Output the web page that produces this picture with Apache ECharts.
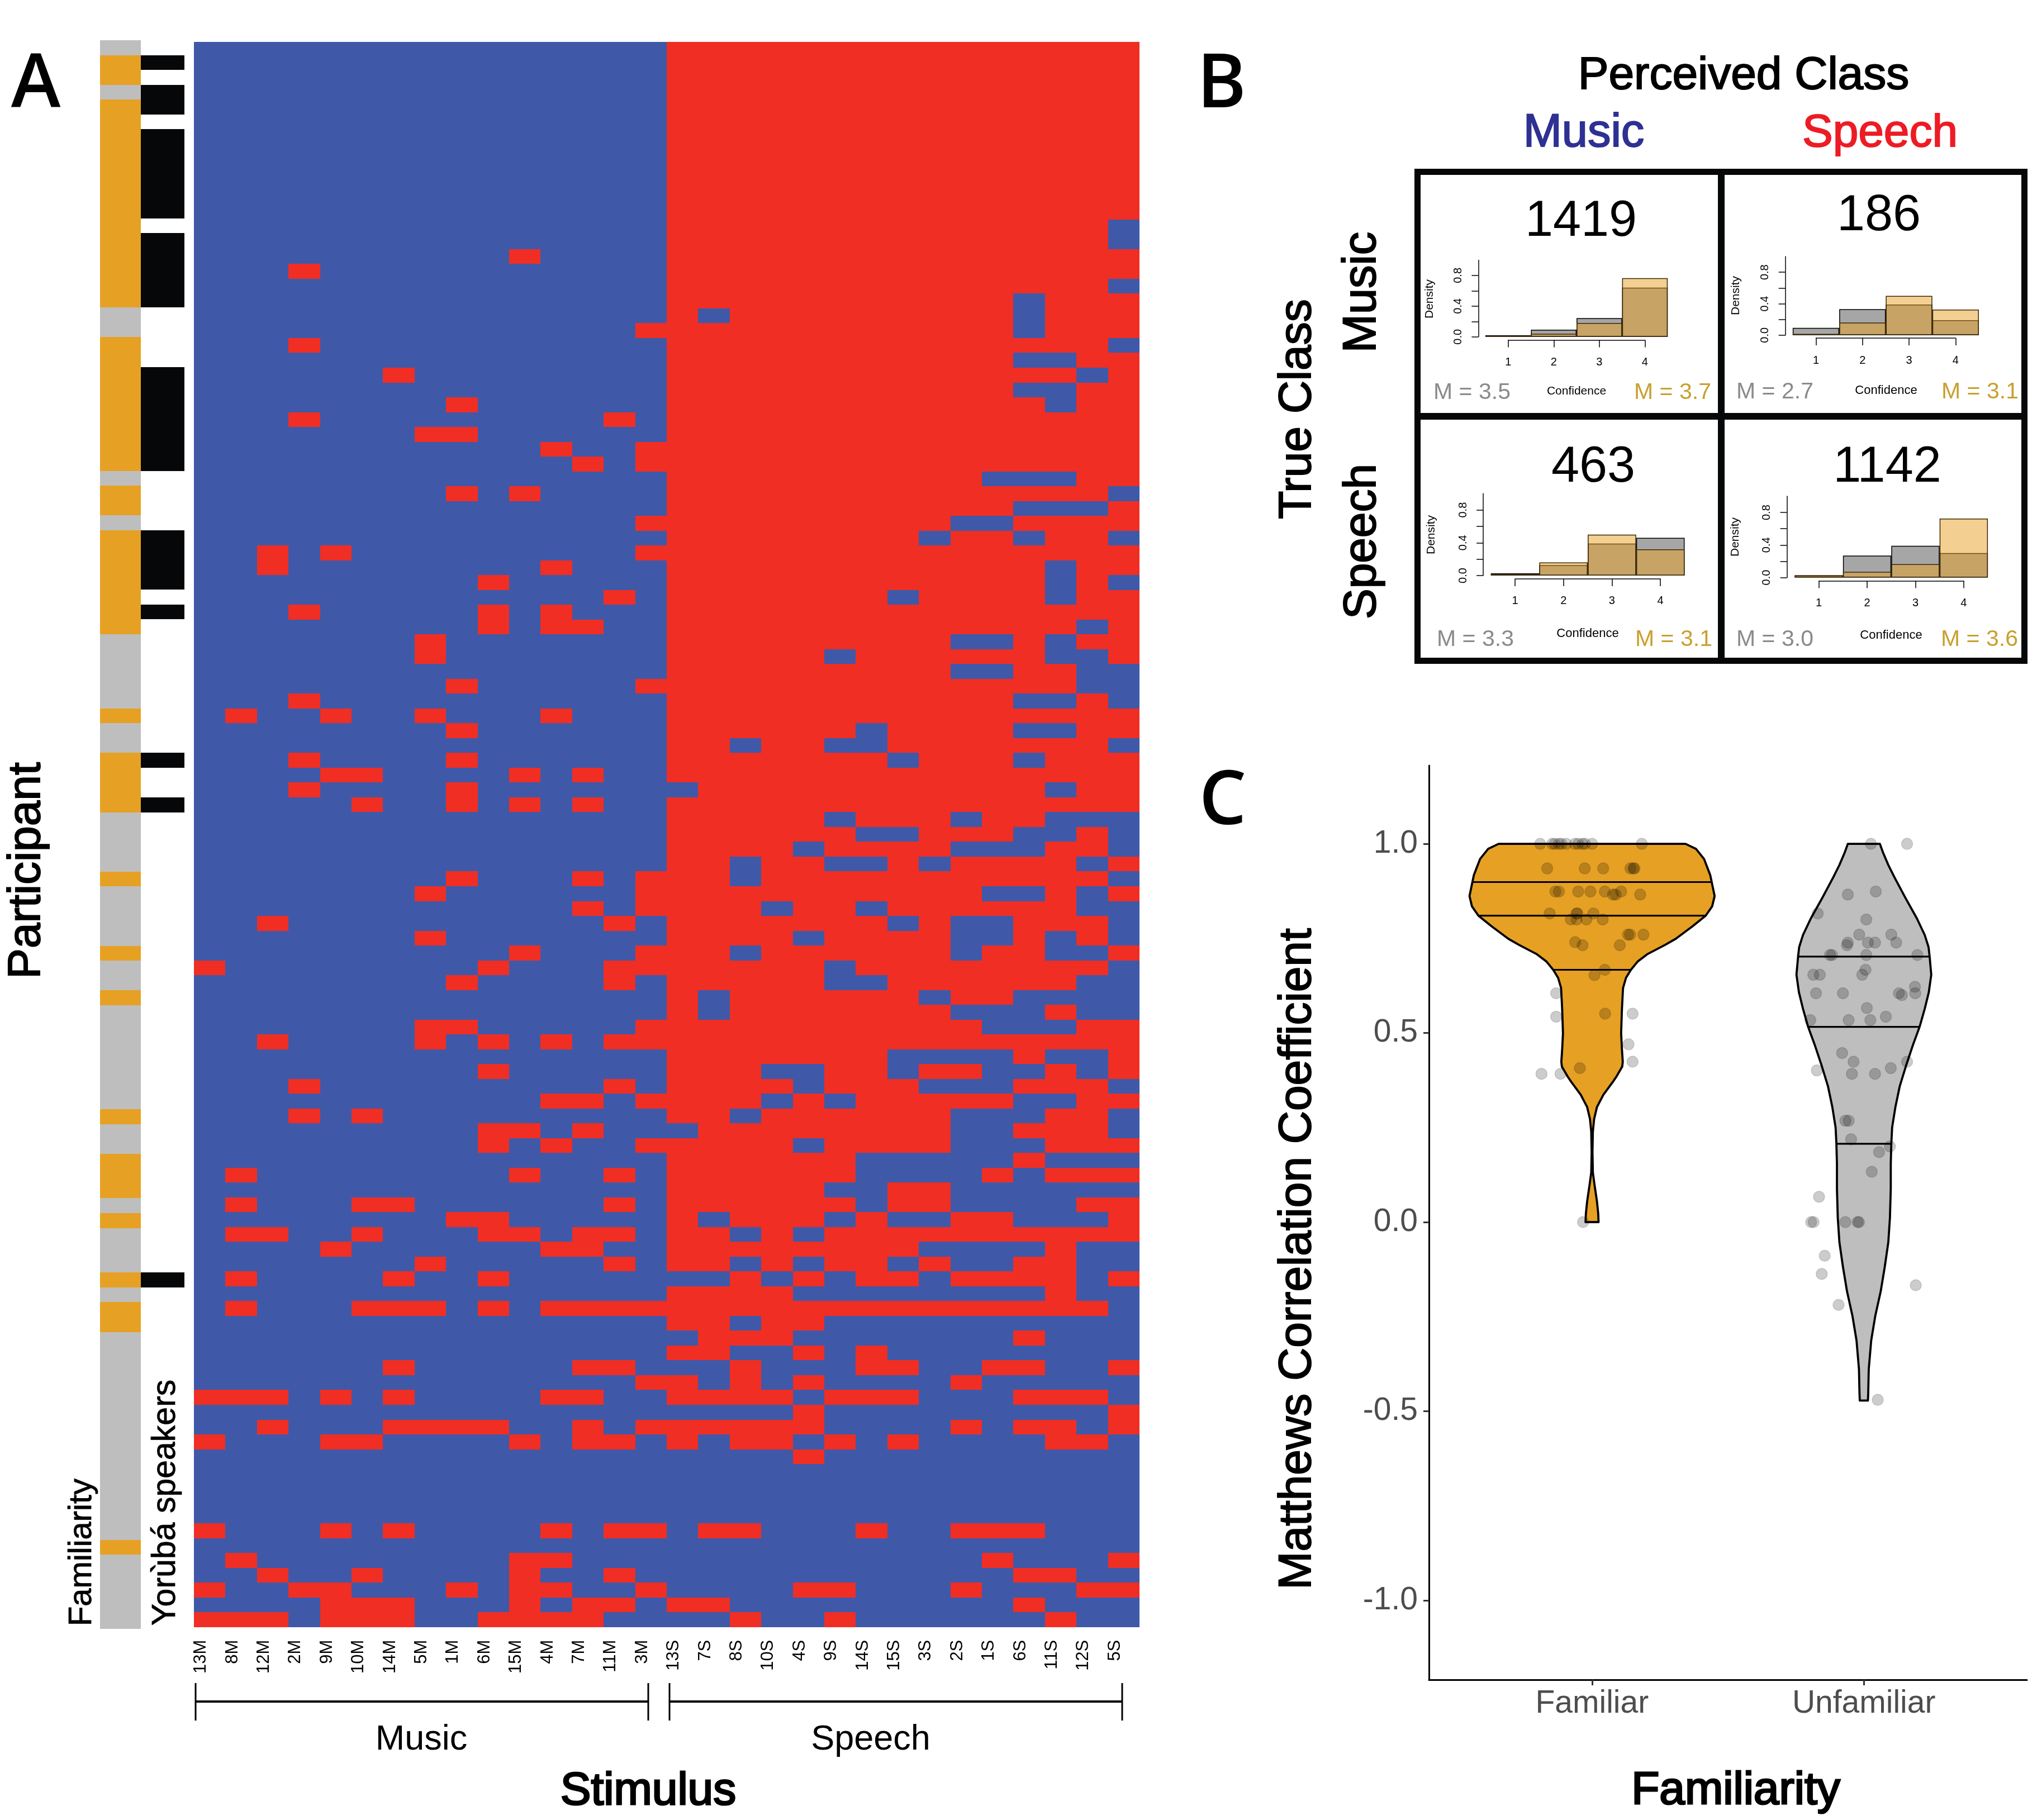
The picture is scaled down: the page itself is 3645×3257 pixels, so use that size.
<!DOCTYPE html>
<html>
<head>
<meta charset="utf-8">
<style>html,body{margin:0;padding:0;background:#fff}#c{width:3645px;height:3257px}</style>
<script src="https://cdn.jsdelivr.net/npm/echarts@6/dist/echarts.min.js"></script>
</head>
<body>
<div id="c"></div>
<script>
const stimuli = ['13M','8M','12M','2M','9M','10M','14M','5M','1M','6M','15M','4M','7M','11M','3M','13S','7S','8S','10S','4S','9S','14S','15S','3S','2S','1S','6S','11S','12S','5S'];
const musicCount = 15;
const participantCount = 107;
// columns where the perceived class differs from the true class, one list per participant
const flips = [
[],[],[],[],[],[],[],[],[],[],[],[],
[29],[29],[10],[3],[29],[26],[16,26],[14,26],[3,29],[26,27],[6,28],[26,27],[8,27],[3,13],[7,8],[11,14],[12,14],
[25,26,27],[8,10,29],[26,27,28],[14,24,25],[23,26,29],[2,4,14],[2,11,27],[9,27,29],[13,22,27],[3,9,11],[9,11,12,28],
[7,24,25,27],[7,20,27,28],[24,25,28,29],[8,14,28,29],[3,26,27,29],[1,4,7,11],[8,21,26,27],[17,20,21,29],[3,8,22,26],
[4,5,10,12],[3,8,15,27],[5,8,10,12],[20,24,27,28,29],[21,22,26,27,29],[19,24,25,26,29],[17,20,21,23,28],[8,12,14,17,29],
[7,14,25,26,28],[12,14,18,21,28,29],[2,13,22,24,25,29],[7,19,24,25,27,29],[10,14,17,24,27,28],[0,9,13,14,20,29],
[8,13,20,21,28,29],[16,23,26,27,28,29],[16,24,25,26,28,29],[7,8,14,25,26,27],[2,7,9,11,13,14],[22,23,24,25,27,28],
[9,18,19,22,25,26,28],[3,13,19,23,24,25,29],[11,12,14,18,20,26,27],[3,5,17,24,25,26,29],[9,10,12,15,24,25,29],
[9,11,14,19,24,25,26],[21,22,23,24,25,27,28,29],[1,10,13,21,22,23,24,26],[20,21,24,25,26,27,28,29],
[1,5,6,13,21,24,25,26,27],[8,9,16,20,22,23,26,27,28],[1,2,5,9,10,12,13,17,19],[4,11,12,23,24,25,26,28,29],
[7,13,17,19,22,24,25,28,29],[1,6,9,15,16,18,20,23,28],[19,20,21,22,23,24,25,26,28,29],[1,5,6,7,9,11,12,13,14,29],
[17,20,21,22,23,24,25,26,27,28,29],[15,19,20,21,22,23,24,25,27,28,29],[17,18,20,22,23,24,25,26,27,28,29],
[6,12,13,15,16,18,19,20,23,24,27,28],[14,16,18,20,21,22,23,25,26,27,28,29],[0,1,2,4,6,11,12,19,23,24,25,29],
[15,16,17,18,20,21,22,23,24,25,26,27,28],[2,6,7,8,9,12,14,20,21,22,23,25,28],[0,4,5,10,12,13,16,19,21,23,24,25,26,29],
[15,16,17,18,20,21,22,23,24,25,26,27,28,29],
[15,16,17,18,19,20,21,22,23,24,25,26,27,28,29],[15,16,17,18,19,20,21,22,23,24,25,26,27,28,29],
[15,16,17,18,19,20,21,22,23,24,25,26,27,28,29],[15,16,17,18,19,20,21,22,23,24,25,26,27,28,29],
[0,4,6,11,13,14,15,18,19,20,22,23,27,28,29],
[15,16,17,18,19,20,21,22,23,24,25,26,27,28,29],
[1,10,11,15,16,17,18,19,20,21,22,23,24,26,27,28],
[2,5,10,13,15,16,17,18,19,20,21,22,23,24,25,28,29],
[0,3,4,8,10,11,14,15,16,17,18,21,22,23,25,26,27],
[4,5,6,10,12,13,17,18,19,20,21,22,23,24,25,27,28,29],
[0,1,2,4,5,6,9,10,11,12,15,16,18,19,21,22,23,24,25,26,28,29]
];
const familiarRows = [1,2,4,5,6,7,8,9,10,11,12,13,14,15,16,17,20,21,22,23,24,25,26,27,28,30,31,33,34,35,36,37,38,39,45,48,49,50,51,56,61,64,72,75,76,77,79,83,85,86,101];
const yorubaRows = [1,3,4,6,7,8,9,10,11,13,14,15,16,17,22,23,24,25,26,27,28,33,34,35,36,38,48,51,83];

const confidence = [1,2,3,4];
const histMMgray = [0.02,0.094,0.245,0.64];
const histMMgold = [0.015,0.04,0.18,0.765];
const histMSgray = [0.092,0.33,0.39,0.19];
const histMSgold = [0.017,0.16,0.50,0.325];
const histSMgray = [0.028,0.128,0.39,0.46];
const histSMgold = [0.02,0.16,0.50,0.32];
const histSSgray = [0.024,0.27,0.39,0.30];
const histSSgold = [0.03,0.07,0.165,0.725];

const famViolinY = [1,0.987,0.96,0.917,0.862,0.835,0.81,0.781,0.749,0.733,0.709,0.689,0.667,0.646,0.619,0.564,0.499,0.456,0.424,0.411,0.385,0.369,0.337,0.304,0.272,0.239,0.185,0.131,0.099,0.055,0.023,0];
const famViolinHalf = [0.344,0.382,0.412,0.435,0.451,0.442,0.418,0.368,0.308,0.269,0.205,0.168,0.143,0.125,0.114,0.11,0.107,0.11,0.113,0.111,0.09,0.075,0.042,0.018,0.0075,0.003,0.0015,0.003,0.009,0.018,0.0226,0.024];
const famQuantiles = [0.899,0.81,0.667];
const unfViolinY = [1,0.976,0.944,0.911,0.857,0.803,0.759,0.727,0.702,0.654,0.608,0.564,0.516,0.467,0.413,0.359,0.304,0.25,0.207,0.153,0.088,0.012,-0.053,-0.118,-0.183,-0.248,-0.313,-0.389,-0.454,-0.472];
const unfViolinHalf = [0.059,0.071,0.09,0.113,0.153,0.195,0.224,0.238,0.242,0.248,0.239,0.224,0.205,0.18,0.155,0.132,0.116,0.104,0.101,0.099,0.099,0.096,0.09,0.077,0.062,0.042,0.027,0.018,0.016,0.015];
const unfQuantiles = [0.702,0.516,0.207];

const famDotsX = [0.809,0.853,0.863,0.878,0.887,0.905,0.937,0.949,0.965,0.974,1.0,1.183, 0.835,0.973,1.041,1.141,1.152,1.156, 0.865,0.878,0.949,0.994,1.047,1.107, 1.077,1.087,1.177, 0.844,0.943,0.946,1.005, 0.922,0.943,0.979,1.039, 1.132,1.14,1.189, 0.938, 0.965,1.102, 1.047, 1.009, 0.868, 1.048,1.149, 0.868, 1.134, 1.149, 0.955, 0.814,0.884, 0.967];
const famDotsY = [1,1,1,1,1,1,1,1,1,1,1,1, 0.935,0.935,0.935,0.935,0.935,0.935, 0.874,0.874,0.874,0.874,0.874,0.874, 0.866,0.866,0.866, 0.816,0.816,0.816,0.816, 0.8,0.8,0.8,0.8, 0.76,0.76,0.76, 0.74, 0.732,0.732, 0.667, 0.653, 0.605, 0.551,0.551, 0.543, 0.47, 0.424, 0.407, 0.392,0.392, 0];
const unfDotsX = [2.026,2.159, 2.044, 1.941, 1.83, 2.009, 1.983,2.101, 2.015,2.041,2.119,1.941, 1.938, 1.875,1.883,2.009,2.197, 2.006, 1.814,1.838,1.994, 2.188, 1.824,1.923,2.129,2.189, 2.14, 2.011, 2.081, 1.803,1.944,2.024, 1.92, 1.962,2.159, 2.099, 1.827, 1.956,2.041, 1.932,1.944, 1.953, 2.096, 2.056, 2.029, 1.835, 1.806,1.815,1.932,1.977,1.982, 1.856, 1.845, 2.191, 1.907, 2.051];
const unfDotsY = [1,1, 0.874, 0.866, 0.816, 0.8, 0.76,0.76, 0.739,0.739,0.739,0.739, 0.732, 0.706,0.706,0.706,0.706, 0.667, 0.654,0.654,0.654, 0.622, 0.605,0.605,0.605,0.605, 0.6, 0.566, 0.543, 0.534,0.534,0.534, 0.447, 0.424,0.424, 0.407, 0.401, 0.392,0.392, 0.268,0.268, 0.219, 0.2, 0.185, 0.133, 0.067, 0,0,0,0,0, -0.089, -0.137, -0.167, -0.219, -0.47];
const violinCategories = ['Familiar','Unfamiliar'];
const violinTicks = [-1,-0.5,0,0.5,1];

const SANS = '"Liberation Sans", Arial, sans-serif';
const BLUE = '#3F59A8', RED = '#F02E24', GOLD = '#E6A023', GREY = '#BEBEBE', INK = '#050708';

const rows = Array.from({length: participantCount}, (_, i) => String(i + 1));
const heatData = [];
flips.forEach((f, r) => {
  stimuli.forEach((s, c) => {
    const base = c < musicCount ? 0 : 1;
    heatData.push([c, r, f.includes(c) ? 1 - base : base]);
  });
});
const famData = rows.map((_, r) => [0, r, familiarRows.includes(r) ? 1 : 0]);
const yorData = yorubaRows.map(r => [0, r, 1]);

// pixel-snapped cells so neighbouring cells of one colour leave no seam
function cellSeries(axisIndex, data, palette) {
  return {
    type: 'custom', xAxisIndex: axisIndex, yAxisIndex: axisIndex, data, encode: {x: 0, y: 1}, clip: false,
    renderItem: (params, api) => {
      const p = api.coord([api.value(0), api.value(1)]);
      const s = api.size([1, 1]);
      const x0 = Math.round(p[0] - s[0] / 2), x1 = Math.round(p[0] + s[0] / 2);
      const y0 = Math.round(p[1] - s[1] / 2), y1 = Math.round(p[1] + s[1] / 2);
      return {type: 'rect', shape: {x: x0, y: y0, width: x1 - x0, height: y1 - y0}, style: {fill: palette[api.value(2)]}};
    }
  };
}

const grids = [
  {left: 347, top: 74.7, width: 1692, height: 2837},
  {left: 179, top: 72, width: 73, height: 2843},
  {left: 252, top: 72, width: 78, height: 2843},
  {left: 2698.7, top: 465.4, width: 244.7, height: 137.4},
  {left: 3249.5, top: 459, width: 249.8, height: 140.8},
  {left: 2711.1, top: 883.3, width: 260, height: 146.7},
  {left: 3254.6, top: 888, width: 259.3, height: 145.5},
  {left: 2557, top: 1370, width: 1070, height: 1636}
];
const xAxes = [
  {gridIndex: 0, type: 'category', data: stimuli, axisLine: {show: false}, axisTick: {show: false},
   axisLabel: {rotate: 90, interval: 0, margin: 23, fontFamily: SANS, fontSize: 31, color: '#000', verticalAlign: 'bottom', align: 'right'}},
  {gridIndex: 1, type: 'category', data: ['Familiarity'], show: false},
  {gridIndex: 2, type: 'category', data: ['Yoruba'], show: false}
];
const yAxes = [
  {gridIndex: 0, type: 'category', data: rows, inverse: true, show: false},
  {gridIndex: 1, type: 'category', data: rows, inverse: true, show: false},
  {gridIndex: 2, type: 'category', data: rows, inverse: true, show: false}
];
const histOffsets = [[5.8, 53.3],[5.2, 54.8],[5.9, 57],[5.9, 57]];
const histBarW = [81.6, 83.3, 86.7, 86.4];
const hists = [[histMMgray,histMMgold],[histMSgray,histMSgold],[histSMgray,histSMgold],[histSSgray,histSSgold]];
const series = [
  cellSeries(0, heatData, [BLUE, RED]),
  cellSeries(1, famData, [GREY, GOLD]),
  cellSeries(2, yorData, [INK, INK])
];
hists.forEach((h, i) => {
  const g = 3 + i;
  xAxes.push({gridIndex: g, type: 'value', min: 1, max: 4, interval: 1, offset: histOffsets[i][0], position: 'bottom',
    splitLine: {show: false}, axisLine: {show: true, onZero: false, lineStyle: {color: '#000', width: 1.5}},
    axisTick: {show: true, length: 13, lineStyle: {color: '#000', width: 1.5}},
    axisLabel: {margin: 30, fontFamily: SANS, fontSize: 20, color: '#000'}});
  yAxes.push({gridIndex: g, type: 'value', min: 0, max: 1, interval: 0.2, offset: histOffsets[i][1], position: 'left',
    splitLine: {show: false}, axisLine: {show: true, lineStyle: {color: '#000', width: 1.5}},
    axisTick: {show: true, length: 12, lineStyle: {color: '#000', width: 1.5}},
    axisLabel: {rotate: 90, margin: 26, fontFamily: SANS, fontSize: 20, color: '#000', showMinLabel: true, showMaxLabel: false,
      formatter: v => (Math.abs(v * 5 % 2) < 1e-6 ? v.toFixed(1) : '')}});
  series.push({type: 'bar', xAxisIndex: g, yAxisIndex: g, clip: false, barWidth: histBarW[i], barGap: '-100%',
    itemStyle: {color: 'rgba(128,128,128,0.7)', borderColor: '#000', borderWidth: 1.5},
    data: confidence.map((c, k) => [c, h[0][k]])});
  series.push({type: 'bar', xAxisIndex: g, yAxisIndex: g, clip: false, barWidth: histBarW[i], barGap: '-100%',
    itemStyle: {color: 'rgba(232,160,35,0.5)', borderColor: '#3a2a08', borderWidth: 1.5},
    data: confidence.map((c, k) => [c, h[1][k]])});
});
xAxes.push({gridIndex: 7, type: 'value', min: 0.4, max: 2.6, splitLine: {show: false},
  axisLine: {show: true, onZero: false, lineStyle: {color: '#000', width: 3}},
  axisTick: {show: true, customValues: [1, 2], length: 10, lineStyle: {color: '#333', width: 3}},
  axisLabel: {customValues: [1, 2], margin: 15, fontFamily: SANS, fontSize: 57, color: '#4D4D4D', formatter: v => violinCategories[Math.round(v) - 1]}});
yAxes.push({gridIndex: 7, type: 'value', min: -1.21, max: 1.207, splitLine: {show: false},
  axisLine: {show: true, onZero: false, lineStyle: {color: '#000', width: 3}},
  axisTick: {show: true, customValues: violinTicks, length: 10, lineStyle: {color: '#333', width: 3}},
  axisLabel: {customValues: violinTicks, margin: 20, fontFamily: SANS, fontSize: 57, color: '#4D4D4D', padding: [10, 0, 0, 0], formatter: v => v.toFixed(1)}});

const violins = [
  {cx: 1, ys: famViolinY, hw: famViolinHalf, q: famQuantiles, fill: GOLD},
  {cx: 2, ys: unfViolinY, hw: unfViolinHalf, q: unfQuantiles, fill: GREY}
];
function widthAt(v, y) {
  for (let i = 1; i < v.ys.length; i++) {
    if (y >= v.ys[i]) {
      const t = (v.ys[i - 1] - y) / (v.ys[i - 1] - v.ys[i]);
      return v.hw[i - 1] + t * (v.hw[i] - v.hw[i - 1]);
    }
  }
  return 0;
}
series.push({type: 'custom', xAxisIndex: 7, yAxisIndex: 7, clip: false, z: 2,
  data: [[1, 0], [2, 0]],
  renderItem: (params, api) => {
    const v = violins[params.dataIndex];
    const left = v.ys.map((y, i) => api.coord([v.cx - v.hw[i], y]));
    const right = v.ys.map((y, i) => api.coord([v.cx + v.hw[i], y])).reverse();
    const children = [{type: 'polygon', shape: {points: left.concat(right)}, style: {fill: v.fill, stroke: '#000', lineWidth: 3.8, lineJoin: 'round'}}];
    v.q.forEach(q => {
      const w = widthAt(v, q);
      const a = api.coord([v.cx - w, q]), b = api.coord([v.cx + w, q]);
      children.push({type: 'line', shape: {x1: a[0], y1: a[1], x2: b[0], y2: b[1]}, style: {stroke: '#000', lineWidth: 3.2}});
    });
    return {type: 'group', children};
  }});
const dotStyle = {color: 'rgba(0,0,0,0.25)', borderColor: 'rgba(0,0,0,0.18)', borderWidth: 1.5};
series.push({type: 'scatter', xAxisIndex: 7, yAxisIndex: 7, z: 3, clip: false, symbolSize: 20,
  itemStyle: dotStyle, data: famDotsX.map((x, i) => [x, famDotsY[i]])});
series.push({type: 'scatter', xAxisIndex: 7, yAxisIndex: 7, z: 3, clip: false, symbolSize: 20,
  itemStyle: dotStyle, data: unfDotsX.map((x, i) => [x, unfDotsY[i]])});

// size: font px; the middle of the line box sits above the optical middle, hence the small shift
function txt(text, x, y, size, opts) {
  const o = opts || {};
  const shift = size * 0.055;
  const style = {text, font: (o.font || (size + 'px ' + SANS)), fill: o.fill || '#000', textAlign: 'center', textVerticalAlign: 'middle'};
  if (o.heavy) { style.stroke = o.fill || '#000'; style.lineWidth = o.heavy; }
  return {type: 'text', x: o.rot ? x + shift : x, y: o.rot ? y : y + shift, rotation: o.rot ? Math.PI / 2 : 0, z: 10, style};
}
const LET = '600 134px "Open Sans", sans-serif';
const GM = '#8A8A8D', GDM = '#C9A02F';
const graphics = [
  txt('A', 64, 146, 134, {font: LET}), txt('B', 2186, 146, 134, {font: LET}), txt('C', 2188, 1429, 134, {font: LET}),
  txt('Participant', 44, 1558, 82, {rot: 1, heavy: 2}),
  txt('Familiarity', 144, 2778, 58, {rot: 1, heavy: 0.8}),
  txt('Yorùbá speakers', 293, 2689, 59, {rot: 1, heavy: 0.8}),
  txt('Music', 754, 3110, 63), txt('Speech', 1558, 3110, 63),
  txt('Stimulus', 1160, 3202, 82, {heavy: 3}),
  txt('Perceived Class', 3120, 132, 82, {heavy: 2}),
  txt('Music', 2834, 235, 83, {fill: '#2E3192', heavy: 2}),
  txt('Speech', 3364, 235, 82, {fill: '#ED1C24', heavy: 2}),
  txt('True Class', 2318, 732, 82, {rot: 1, heavy: 2}),
  txt('Music', 2434, 523, 83, {rot: 1, heavy: 2}),
  txt('Speech', 2434, 969, 82, {rot: 1, heavy: 2}),
  txt('Matthews Correlation Coefficient', 2318, 2253, 82, {rot: 1, heavy: 2}),
  txt('Familiarity', 3106, 3201, 82, {heavy: 3}),
  // panel B labels
  txt('1419', 2829, 392, 90), txt('186', 3362, 382, 90), txt('463', 2851, 832, 90), txt('1142', 3377, 832, 90),
  txt('M = 3.5', 2634, 700, 41, {fill: GM}), txt('M = 3.7', 2993, 700, 41, {fill: GDM}),
  txt('M = 2.7', 3176, 699, 41, {fill: GM}), txt('M = 3.1', 3543, 699, 41, {fill: GDM}),
  txt('M = 3.3', 2640, 1142, 41, {fill: GM}), txt('M = 3.1', 2995, 1142, 41, {fill: GDM}),
  txt('M = 3.0', 3176, 1142, 41, {fill: GM}), txt('M = 3.6', 3542, 1142, 41, {fill: GDM}),
  txt('Confidence', 2821, 699, 21), txt('Confidence', 3375, 698, 22),
  txt('Confidence', 2841, 1133, 22), txt('Confidence', 3384, 1136, 22),
  txt('Density', 2557, 535, 21, {rot: 1}), txt('Density', 3105, 529, 21, {rot: 1}),
  txt('Density', 2560, 957, 21, {rot: 1}), txt('Density', 3104, 961, 21, {rot: 1}),
  // frame of panel B
  {type: 'rect', z: 9, shape: {x: 2536.5, y: 307.5, width: 1086, height: 875}, style: {fill: 'none', stroke: INK, lineWidth: 11}},
  {type: 'line', z: 9, shape: {x1: 3080, y1: 307, x2: 3080, y2: 1183}, style: {stroke: INK, lineWidth: 12}},
  {type: 'line', z: 9, shape: {x1: 2537, y1: 745, x2: 3622, y2: 745}, style: {stroke: INK, lineWidth: 12}},
  // brackets under the heatmap
  {type: 'line', z: 9, shape: {x1: 350, y1: 3012, x2: 350, y2: 3079}, style: {stroke: '#000', lineWidth: 3}},
  {type: 'line', z: 9, shape: {x1: 350, y1: 3045, x2: 1160, y2: 3045}, style: {stroke: '#000', lineWidth: 4}},
  {type: 'line', z: 9, shape: {x1: 1160, y1: 3012, x2: 1160, y2: 3079}, style: {stroke: '#000', lineWidth: 3}},
  {type: 'line', z: 9, shape: {x1: 1198, y1: 3012, x2: 1198, y2: 3079}, style: {stroke: '#000', lineWidth: 3}},
  {type: 'line', z: 9, shape: {x1: 1198, y1: 3045, x2: 2008, y2: 3045}, style: {stroke: '#000', lineWidth: 4}},
  {type: 'line', z: 9, shape: {x1: 2008, y1: 3012, x2: 2008, y2: 3079}, style: {stroke: '#000', lineWidth: 3}}
];

const chart = echarts.init(document.getElementById('c'));
chart.setOption({
  animation: false,
  backgroundColor: '#fff',
  tooltip: {show: false},
  grid: grids,
  xAxis: xAxes,
  yAxis: yAxes,
  series,
  graphic: {elements: graphics}
});
</script>
</body>
</html>
